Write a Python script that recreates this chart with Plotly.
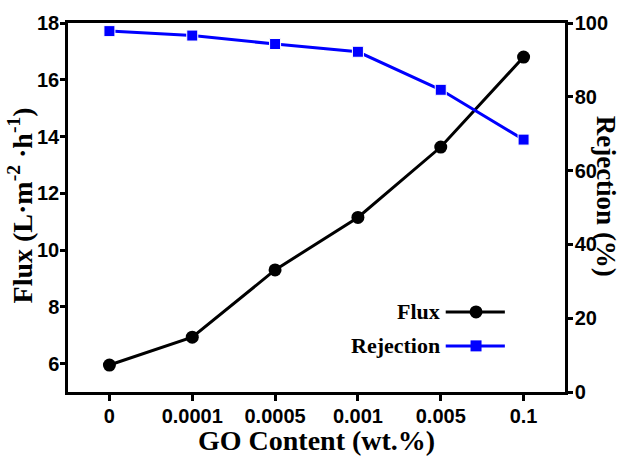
import plotly.graph_objects as go

categories = ["0", "0.0001", "0.0005", "0.001", "0.005", "0.1"]
flux = [5.95, 6.93, 9.3, 11.15, 13.63, 16.8]
rejection = [97.8, 96.6, 94.3, 92.2, 81.9, 68.4]

bold_sans = "Liberation Sans"
serif = "Liberation Serif"

fig = go.Figure()
fig.add_trace(go.Scatter(
    x=categories, y=flux, name="Flux", mode="lines+markers",
    line=dict(color="black", width=3),
    marker=dict(symbol="circle", size=13, color="black"),
    yaxis="y", showlegend=False))
fig.add_trace(go.Scatter(
    x=categories, y=rejection, name="Rejection", mode="lines+markers",
    line=dict(color="#0000FF", width=3),
    marker=dict(symbol="square", size=11, color="#0000FF", line=dict(color="white", width=1)),
    yaxis="y2", showlegend=False))

axis_common = dict(showline=True, linecolor="black", linewidth=2.5, ticks="outside",
                   tickcolor="black", tickwidth=2.5, showgrid=False, zeroline=False,
                   automargin=False,
                   tickfont=dict(family=bold_sans, size=20, color="black", weight="bold"))

fig.update_layout(
    width=622, height=456,
    margin=dict(l=68, r=57, t=23, b=64),
    paper_bgcolor="white", plot_bgcolor="white",
    xaxis=dict(type="category", range=[-0.5, 5.5], mirror=True, ticklen=6,
               ticklabelstandoff=-2, **axis_common),
    yaxis=dict(range=[5, 18], tickvals=[6, 8, 10, 12, 14, 16, 18], ticklen=5,
               ticklabelstandoff=-3, **axis_common),
    yaxis2=dict(range=[0, 100], tickvals=[0, 20, 40, 60, 80, 100], overlaying="y", side="right",
                ticklen=5, ticklabelstandoff=-2, **axis_common),
)

title_font = dict(family=serif, size=28, color="black", weight="bold")
fig.add_annotation(xref="paper", yref="paper", x=0.5, y=-0.131, xanchor="center", yanchor="middle",
                   text="GO Content (wt.%)", showarrow=False, font=title_font)
fig.add_annotation(xref="paper", yref="paper", x=-0.095, y=0.505, xanchor="center", yanchor="middle",
                   text="Flux (L·m<sup>-2</sup> ·h<sup>-1</sup>)", showarrow=False, textangle=-90,
                   font=title_font)
fig.add_annotation(xref="paper", yref="paper", x=1.082, y=0.53, xanchor="center", yanchor="middle",
                   text="Rejection (%)", showarrow=False, textangle=90,
                   font=dict(family=serif, size=27, color="black", weight="bold"))

# manual legend (text left of symbol, as in reference)
legend_items = [("Flux", "black", "circle", 0.217), ("Rejection", "#0000FF", "square", 0.125)]
for label, color, sym, ypos in legend_items:
    fig.add_annotation(xref="paper", yref="paper", x=0.753, y=ypos, xanchor="right", yanchor="middle",
                       text=label, showarrow=False,
                       font=dict(family=serif, size=22, color="black", weight="bold"))
    fig.add_shape(type="line", xref="paper", yref="paper", x0=0.76, x1=0.879, y0=ypos, y1=ypos,
                  line=dict(color=color, width=3))
    if sym == "circle":
        fig.add_shape(type="circle", xref="paper", yref="paper", xsizemode="pixel", ysizemode="pixel",
                      xanchor=0.821, yanchor=ypos, x0=-6.5, x1=6.5, y0=-6.5, y1=6.5,
                      fillcolor=color, line=dict(color=color, width=0))
    else:
        fig.add_shape(type="rect", xref="paper", yref="paper", xsizemode="pixel", ysizemode="pixel",
                      xanchor=0.821, yanchor=ypos, x0=-5.5, x1=5.5, y0=-5.5, y1=5.5,
                      fillcolor=color, line=dict(color=color, width=0))

fig.write_html("out.html")
